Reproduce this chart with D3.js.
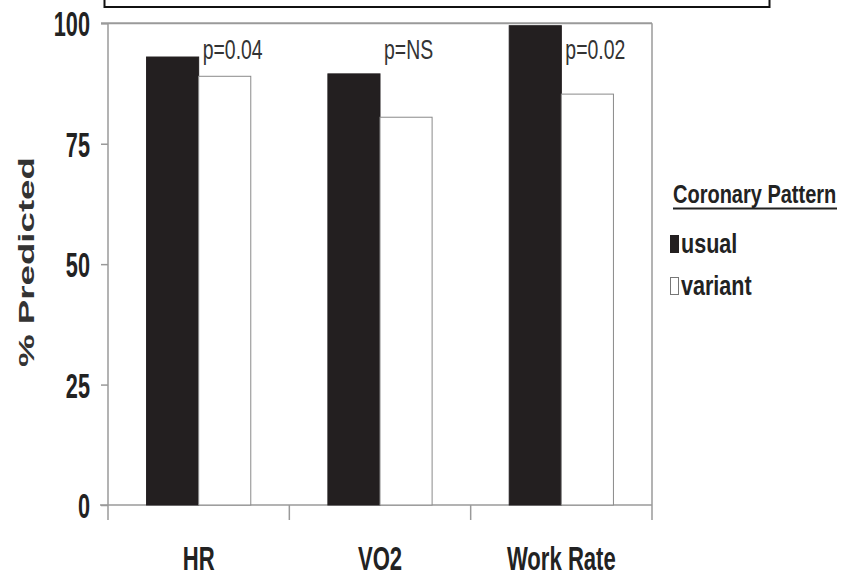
<!DOCTYPE html>
<html>
<head>
<meta charset="utf-8">
<script src="https://cdn.jsdelivr.net/npm/d3@7"></script>
<style>
  body { margin: 0; background: #fff; }
  text { font-family: "Liberation Sans", Arial, sans-serif; fill: #222; }
</style>
</head>
<body>
<div id="bar_chart"></div>
<script>
// Data
var categories = ["HR", "VO2", "Work Rate"];
var groups = ["usual", "variant"];
var usualValues = [93, 89.5, 99.5];
var variantValues = [89, 80.5, 85.3];
var pLabels = ["p=0.04", "p=NS", "p=0.02"];
var yTicks = [0, 25, 50, 75, 100];
var legendLabels = ["usual", "variant"];

var data = categories.map(function(c, i) {
  return {cat: c, usual: usualValues[i], variant: variantValues[i], p: pLabels[i]};
});

var svg = d3.select("#bar_chart")
  .append("svg")
    .attr("width", 850)
    .attr("height", 576);

// plot area (note: "top" is taken by window.top, so prefix these)
var plotLeft = 108, plotRight = 652, plotTop = 23.3, plotBottom = 505;
var frameColor = "#9a9a9a";

// Scales
var x0 = d3.scaleBand()
  .domain(categories)
  .range([plotLeft, plotRight])
  .paddingInner(0)
  .paddingOuter(0);

var x1 = d3.scaleBand()
  .domain(groups)
  .range([0, x0.bandwidth()])
  .paddingInner(0)
  .paddingOuter(0.74);

var y = d3.scaleLinear()
  .domain([0, 100])
  .range([plotBottom, plotTop]);

// top box (cut off at the top of the picture)
svg.append("rect")
  .attr("x", 104.5)
  .attr("y", -10)
  .attr("width", 665)
  .attr("height", 17)
  .attr("fill", "none")
  .attr("stroke", "#111")
  .attr("stroke-width", 2);

// frame: top and right
svg.append("line")
  .attr("x1", plotLeft - 7).attr("x2", plotRight)
  .attr("y1", y(100)).attr("y2", y(100))
  .attr("stroke", frameColor).attr("stroke-width", 2);
svg.append("line")
  .attr("x1", plotRight).attr("x2", plotRight)
  .attr("y1", y(100)).attr("y2", y(0) + 15)
  .attr("stroke", frameColor).attr("stroke-width", 1.5);

// Y axis
var sxTick = 0.62;
var yAxis = svg.append("g")
  .attr("transform", "translate(" + plotLeft + ",0)")
  .call(d3.axisLeft(y).tickValues(yTicks).tickSize(7).tickSizeOuter(0));
yAxis.select(".domain").remove();
yAxis.selectAll("line").attr("stroke", frameColor).attr("stroke-width", 1.5);
yAxis.selectAll("text")
  .attr("x", -18 / sxTick)
  .attr("dy", "0.36em")
  .attr("transform", "scale(" + sxTick + ",1)")
  .style("font-size", "35px")
  .style("font-weight", "bold")
  .style("fill", "#222");
svg.append("line")
  .attr("x1", plotLeft).attr("x2", plotLeft)
  .attr("y1", y(100)).attr("y2", y(0) + 15)
  .attr("stroke", frameColor).attr("stroke-width", 1.5);

// X axis
var xAxis = svg.append("g")
  .attr("transform", "translate(0," + plotBottom + ")")
  .call(d3.axisBottom(x0).tickSize(0).tickSizeOuter(0));
xAxis.select(".domain").remove();
xAxis.selectAll("text")
  .attr("y", 65)
  .attr("dy", 0)
  .attr("transform", "scale(0.65,1)")
  .style("font-size", "34px")
  .style("font-weight", "bold")
  .style("fill", "#222");
svg.append("line")
  .attr("x1", plotLeft - 8).attr("x2", plotRight)
  .attr("y1", y(0)).attr("y2", y(0))
  .attr("stroke", frameColor).attr("stroke-width", 1.5);
// boundary ticks between categories
svg.selectAll("xtick")
  .data(categories.slice(0, categories.length - 1))
  .enter()
  .append("line")
    .attr("x1", function(d) { return x0(d) + x0.bandwidth(); })
    .attr("x2", function(d) { return x0(d) + x0.bandwidth(); })
    .attr("y1", y(0))
    .attr("y2", y(0) + 15)
    .attr("stroke", frameColor)
    .attr("stroke-width", 1.5);

// Bars
var cat = svg.selectAll("catgroup")
  .data(data)
  .enter()
  .append("g")
    .attr("transform", function(d) { return "translate(" + x0(d.cat) + ",0)"; });

cat.selectAll("rect")
  .data(function(d) { return groups.map(function(g) { return {key: g, value: d[g]}; }); })
  .enter()
  .append("rect")
    .attr("x", function(d) { return x1(d.key); })
    .attr("y", function(d) { return y(d.value); })
    .attr("width", x1.bandwidth())
    .attr("height", function(d) { return y(0) - y(d.value); })
    .attr("fill", function(d) { return d.key === "usual" ? "#231f20" : "#fff"; })
    .attr("stroke", function(d) { return d.key === "usual" ? "#231f20" : "#8a8a8a"; })
    .attr("stroke-width", 1);

// p-value labels
var sxP = 0.72;
cat.append("text")
  .attr("transform", function(d) { return "translate(" + (x1("variant") + 4) + ",59) scale(" + sxP + ",1)"; })
  .style("font-size", "27px")
  .style("fill", "#333")
  .text(function(d) { return d.p; });

// Y axis label
svg.append("text")
  .attr("text-anchor", "middle")
  .attr("transform", "translate(33.5,262) rotate(-90) scale(1.63,1)")
  .style("font-size", "22.5px")
  .style("font-weight", "bold")
  .style("fill", "#333")
  .text("% Predicted");

// Legend
svg.append("text")
  .attr("transform", "translate(673,203) scale(0.8,1)")
  .style("font-size", "25px")
  .style("font-weight", "bold")
  .text("Coronary Pattern");
svg.append("line")
  .attr("x1", 673).attr("x2", 837)
  .attr("y1", 208.5).attr("y2", 208.5)
  .attr("stroke", "#222").attr("stroke-width", 2);

var legend = svg.selectAll("legenditem")
  .data(legendLabels)
  .enter()
  .append("g")
    .attr("transform", function(d, i) { return "translate(670," + (235 + i * 42) + ")"; });
legend.append("rect")
  .attr("x", 0.5)
  .attr("y", 0.5)
  .attr("width", 8)
  .attr("height", 17)
  .attr("fill", function(d) { return d === "usual" ? "#231f20" : "#fff"; })
  .attr("stroke", function(d) { return d === "usual" ? "#231f20" : "#777"; })
  .attr("stroke-width", 1);
legend.append("text")
  .attr("transform", "translate(11,18) scale(0.77,1)")
  .style("font-size", "28px")
  .style("font-weight", "bold")
  .text(function(d) { return d; });
</script>
</body>
</html>
